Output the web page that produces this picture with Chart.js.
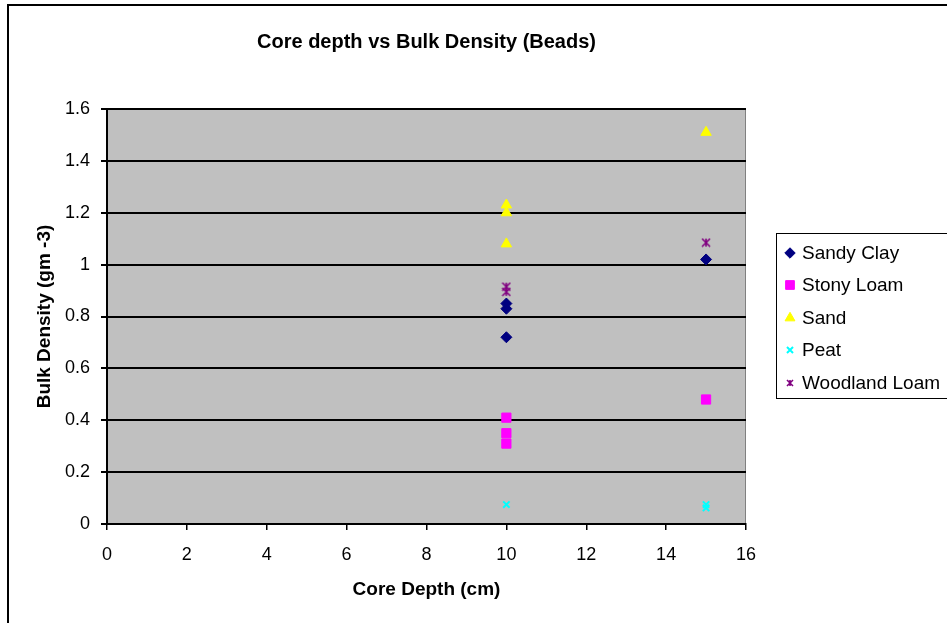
<!DOCTYPE html>
<html>
<head>
<meta charset="utf-8">
<script src="https://cdn.jsdelivr.net/npm/chart.js@4"></script>
<style>
    html, body { margin: 0; padding: 0; background: #fff; }
    #wrap { position: relative; width: 947px; height: 623px; }
</style>
</head>
<body>
<div id="wrap"><canvas id="densityChart" width="947" height="623"></canvas></div>
<script>
// ── data ──
const seriesNames = ['Sandy Clay', 'Stony Loam', 'Sand', 'Peat', 'Woodland Loam'];
const sandyClayX = [10, 10, 10, 15];
const sandyClayY = [0.72, 0.83, 0.85, 1.02];
const stonyLoamX = [10, 10, 10, 15];
const stonyLoamY = [0.41, 0.35, 0.31, 0.48];
const sandX = [10, 10, 10, 15];
const sandY = [1.23, 1.20, 1.08, 1.51];
const peatX = [10, 15, 15];
const peatY = [0.075, 0.075, 0.062];
const woodlandX = [10, 10, 15];
const woodlandY = [0.915, 0.895, 1.085];
const xTicks = [0, 2, 4, 6, 8, 10, 12, 14, 16];
const yTicks = [0, 0.2, 0.4, 0.6, 0.8, 1, 1.2, 1.4, 1.6];

const chartTitle = 'Core depth vs Bulk Density (Beads)';
const xTitle = 'Core Depth (cm)';
const yTitle = 'Bulk Density (gm -3)';

const FONT = '"Liberation Sans", Arial, sans-serif';

// ── ช่วยรวม x/y เป็นจุด ──
function toPoints(xs, ys) {
    return xs.map((x, i) => ({ x, y: ys[i] }));
}

// ── marker แบบ asterisk (X + เส้นตั้ง) สำหรับ Woodland Loam ──
function asteriskMarker(size, color) {
    const c = document.createElement('canvas');
    c.width = size; c.height = size;
    const g = c.getContext('2d');
    g.strokeStyle = color;
    g.lineWidth = 1.6;
    const m = 1, s = size - 1;
    g.beginPath();
    g.moveTo(m, m); g.lineTo(s, s);
    g.moveTo(s, m); g.lineTo(m, s);
    g.moveTo(size / 2, m); g.lineTo(size / 2, s);
    g.stroke();
    return c;
}

const starMark = asteriskMarker(10, '#800080');
const starLegend = asteriskMarker(8, '#800080');

const datasets = [
    { label: seriesNames[0], data: toPoints(sandyClayX, sandyClayY), pointStyle: 'rectRot', pointRadius: 5.5,
      backgroundColor: '#000080', borderColor: '#000080', borderWidth: 1 },
    { label: seriesNames[1], data: toPoints(stonyLoamX, stonyLoamY), pointStyle: 'rect', pointRadius: 6.5,
      backgroundColor: '#FF00FF', borderColor: '#FF00FF', borderWidth: 1 },
    { label: seriesNames[2], data: toPoints(sandX, sandY), pointStyle: 'triangle', pointRadius: 6,
      backgroundColor: '#FFFF00', borderColor: '#FFFF00', borderWidth: 1 },
    { label: seriesNames[3], data: toPoints(peatX, peatY), pointStyle: 'crossRot', pointRadius: 4.5,
      backgroundColor: '#00FFFF', borderColor: '#00FFFF', borderWidth: 2 },
    { label: seriesNames[4], data: toPoints(woodlandX, woodlandY), pointStyle: starMark, pointRadius: 5,
      backgroundColor: '#800080', borderColor: '#800080', borderWidth: 1 }
];

// ── plugin: พื้นหลัง, กรอบ, หัวเรื่อง, legend ──
const frame = {
    id: 'frame',
    beforeDraw(chart) {
        const { ctx, chartArea: a } = chart;
        ctx.save();
        ctx.fillStyle = '#C0C0C0';
        ctx.fillRect(a.left, a.top, a.right - a.left, a.bottom - a.top);
        ctx.strokeStyle = '#808080';
        ctx.lineWidth = 1;
        ctx.beginPath();
        ctx.moveTo(a.left, a.top + 0.5); ctx.lineTo(a.right - 0.5, a.top + 0.5);
        ctx.lineTo(a.right - 0.5, a.bottom);
        ctx.stroke();
        // outer chart border (only left/top are in the picture)
        ctx.strokeStyle = '#000';
        ctx.lineWidth = 2;
        ctx.beginPath();
        ctx.moveTo(8, 623); ctx.lineTo(8, 5); ctx.lineTo(947, 5);
        ctx.stroke();
        ctx.restore();
    },
    afterDraw(chart) {
        const { ctx, chartArea: a } = chart;
        const cx = (a.left + a.right) / 2;
        ctx.save();
        ctx.fillStyle = '#000';
        ctx.textAlign = 'center';
        ctx.textBaseline = 'middle';
        ctx.font = 'bold 20px ' + FONT;
        ctx.fillText(chartTitle, cx, 42);
        ctx.font = 'bold 19px ' + FONT;
        ctx.fillText(xTitle, cx, 590);
        ctx.translate(45, (a.top + a.bottom) / 2);
        ctx.rotate(-Math.PI / 2);
        ctx.fillText(yTitle, 0, 0);
        ctx.restore();

        // legend
        ctx.save();
        ctx.strokeStyle = '#000';
        ctx.lineWidth = 1;
        ctx.strokeRect(776.5, 233.5, 180, 165);
        ctx.font = '19px ' + FONT;
        ctx.textAlign = 'left';
        ctx.textBaseline = 'middle';
        const rowY = [253, 285, 318, 350, 383];
        chart.data.datasets.forEach((ds, i) => {
            const y = rowY[i];
            const isStar = ds.pointStyle === starMark;
            const style = isStar ? starLegend : ds.pointStyle;
            const r = isStar ? 4 : ds.pointRadius;
            ctx.fillStyle = ds.backgroundColor;
            ctx.strokeStyle = ds.borderColor;
            ctx.lineWidth = ds.borderWidth;
            Chart.helpers.drawPoint(ctx, { pointStyle: style, radius: r * (isStar ? 1 : 0.95), rotation: 0, borderWidth: ds.borderWidth }, 790, y);
            ctx.fillStyle = '#000';
            ctx.fillText(ds.label, 802, y + 1);
        });
        ctx.restore();
    }
};

new Chart(document.getElementById('densityChart'), {
    type: 'scatter',
    data: { datasets },
    options: {
        responsive: false,
        animation: false,
        layout: { padding: { left: 0, top: 109, right: 201, bottom: 0 } },
        plugins: {
            legend: { display: false },
            tooltip: { enabled: false }
        },
        scales: {
            x: {
                type: 'linear',
                min: 0, max: 16,
                afterBuildTicks: s => { s.ticks = xTicks.map(v => ({ value: v })); },
                afterFit: s => { s.height = 99; },
                ticks: { color: '#000', font: { family: FONT, size: 18 }, padding: 14, maxRotation: 0,
                         callback: v => String(v) },
                grid: { drawOnChartArea: false, drawTicks: true, tickLength: 6, color: '#000', lineWidth: 1.5 },
                border: { color: '#000', width: 2 }
            },
            y: {
                type: 'linear',
                min: 0, max: 1.6,
                afterBuildTicks: s => { s.ticks = yTicks.map(v => ({ value: v })); },
                afterFit: s => { s.width = 107; },
                ticks: { color: '#000', font: { family: FONT, size: 18 }, padding: 11,
                         callback: v => String(v) },
                grid: { color: '#000', lineWidth: 2, tickLength: 6 },
                border: { color: '#000', width: 2 }
            }
        }
    },
    plugins: [frame]
});
</script>
</body>
</html>
